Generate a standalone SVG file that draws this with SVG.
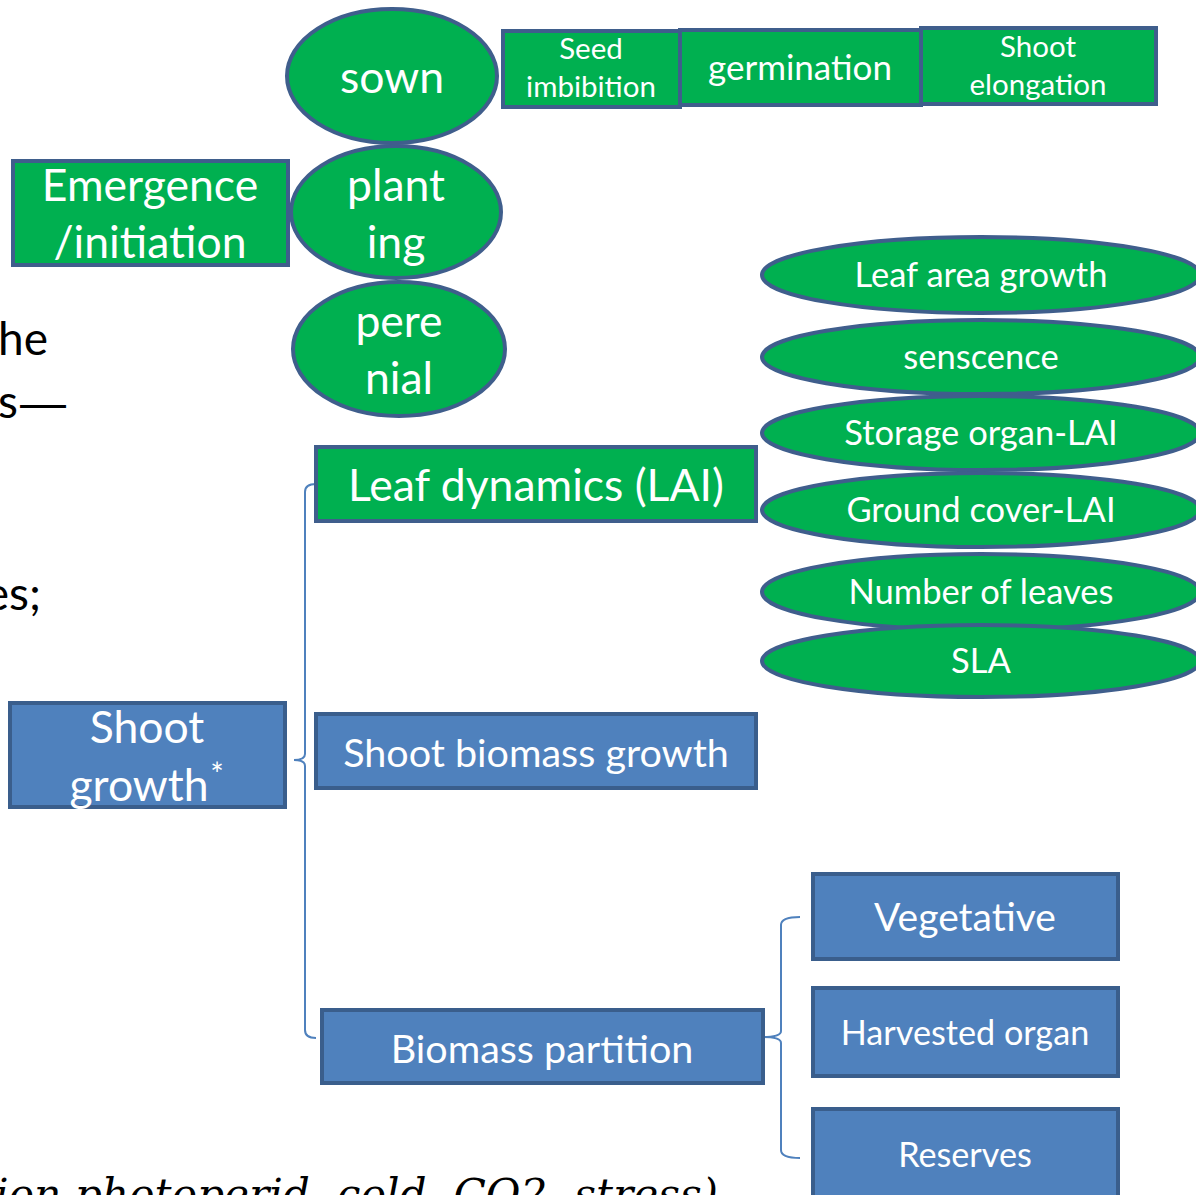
<svg xmlns="http://www.w3.org/2000/svg" width="1196" height="1195" viewBox="0 0 1196 1195">
<style>
.g{fill:#00B050;stroke:#3F5E8C;stroke-width:4}
.b{fill:#4F81BD;stroke:#3A5E8C;stroke-width:4}
.t{fill:#fff;font-family:Lato,"Open Sans",sans-serif;text-anchor:middle}
.bg{fill:#000;font-family:Lato,"Open Sans",sans-serif;font-size:46px}
.conn{fill:none;stroke:#4F81BD;stroke-width:2}
</style>
<rect width="1196" height="1195" fill="#fff"/>
<g id="background-text">
<text class="bg" x="-2" y="355">he</text>
<text class="bg" x="-2" y="418">s<tspan font-family="'Liberation Sans',sans-serif" font-size="46" dx="2">—</tspan></text>
<text class="bg" x="41" y="610" text-anchor="end">es;</text>
<text x="-5" y="1209" font-family="'DejaVu Serif','Liberation Serif',serif" font-style="italic" font-size="42.3" fill="#000">ion photoperid, cold, CO2, stress)</text>
</g>
<g id="connectors">
<path class="conn" d="M316,484 Q305,484 305,492 L305,754 Q305,760 294,760 Q305,760 305,766 L305,1030 Q305,1038 316,1038"/>
<path class="conn" d="M800,917 Q781,917 781,925 L781,1031 Q781,1037 763,1037 Q781,1037 781,1043 L781,1150 Q781,1158 800,1158"/>
</g>
<g id="sown"><ellipse class="g" cx="392" cy="76" rx="105" ry="67"/><text class="t" x="392" y="93" font-size="44.5">sown</text></g>
<g id="planting"><ellipse class="g" cx="396" cy="212" rx="105" ry="66"/><text class="t" x="396" y="201" font-size="44.5">plant</text><text class="t" x="396" y="258" font-size="44.5">ing</text></g>
<g id="perenial"><ellipse class="g" cx="399" cy="349" rx="106" ry="67"/><text class="t" x="399" y="337" font-size="44.5">pere</text><text class="t" x="399" y="394" font-size="44.5">nial</text></g>
<g id="emergence"><rect class="g" x="13" y="161" width="275" height="104"/><text class="t" x="150" y="201" font-size="44.5">Emergence</text><text class="t" x="150" y="258" font-size="44.5">/initiation</text></g>
<g id="seed-imbibition"><rect class="g" x="503" y="31" width="177" height="76"/><text class="t" x="591" y="59" font-size="29.5">Seed</text><text class="t" x="591" y="97" font-size="29.5">imbibition</text></g>
<g id="germination"><rect class="g" x="680" y="30" width="241" height="75"/><text class="t" x="800" y="80" font-size="35">germination</text></g>
<g id="shoot-elongation"><rect class="g" x="921" y="28" width="235" height="76"/><text class="t" x="1038" y="57" font-size="29.5">Shoot</text><text class="t" x="1038" y="95" font-size="29.5">elongation</text></g>
<g id="leaf-area-growth"><ellipse class="g" cx="981" cy="275" rx="219" ry="38"/><text class="t" x="981" y="287" font-size="34.5">Leaf area growth</text></g>
<g id="senscence"><ellipse class="g" cx="981" cy="357" rx="219" ry="37"/><text class="t" x="981" y="369" font-size="34.5">senscence</text></g>
<g id="storage-organ-lai"><ellipse class="g" cx="981" cy="433" rx="219" ry="37"/><text class="t" x="981" y="445" font-size="34.5">Storage organ-LAI</text></g>
<g id="ground-cover-lai"><ellipse class="g" cx="981" cy="510" rx="219" ry="37"/><text class="t" x="981" y="522" font-size="34.5">Ground cover-LAI</text></g>
<g id="number-of-leaves"><ellipse class="g" cx="981" cy="592" rx="219" ry="38"/><text class="t" x="981" y="604" font-size="34.5">Number of leaves</text></g>
<g id="sla"><ellipse class="g" cx="981" cy="661" rx="219" ry="36"/><text class="t" x="981" y="673" font-size="34.5">SLA</text></g>
<g id="leaf-dynamics"><rect class="g" x="316" y="447" width="440" height="74"/><text class="t" x="536" y="501" font-size="44.5">Leaf dynamics (LAI)</text></g>
<g id="shoot-growth"><rect class="b" x="10" y="703" width="275" height="104"/><text class="t" x="147" y="743" font-size="44.5">Shoot</text><text class="t" x="139" y="801" font-size="44.5">growth</text><text class="t" x="217" y="786" font-size="32">*</text></g>
<g id="shoot-biomass-growth"><rect class="b" x="316" y="714" width="440" height="74"/><text class="t" x="536" y="767" font-size="39.5">Shoot biomass growth</text></g>
<g id="biomass-partition"><rect class="b" x="322" y="1010" width="441" height="73"/><text class="t" x="542" y="1063" font-size="39.5">Biomass partition</text></g>
<g id="vegetative"><rect class="b" x="813" y="874" width="305" height="85"/><text class="t" x="965" y="931" font-size="39">Vegetative</text></g>
<g id="harvested-organ"><rect class="b" x="813" y="988" width="305" height="88"/><text class="t" x="965" y="1045" font-size="34.2">Harvested organ</text></g>
<g id="reserves"><rect class="b" x="813" y="1109" width="305" height="100"/><text class="t" x="965" y="1167" font-size="34.2">Reserves</text></g>
</svg>
